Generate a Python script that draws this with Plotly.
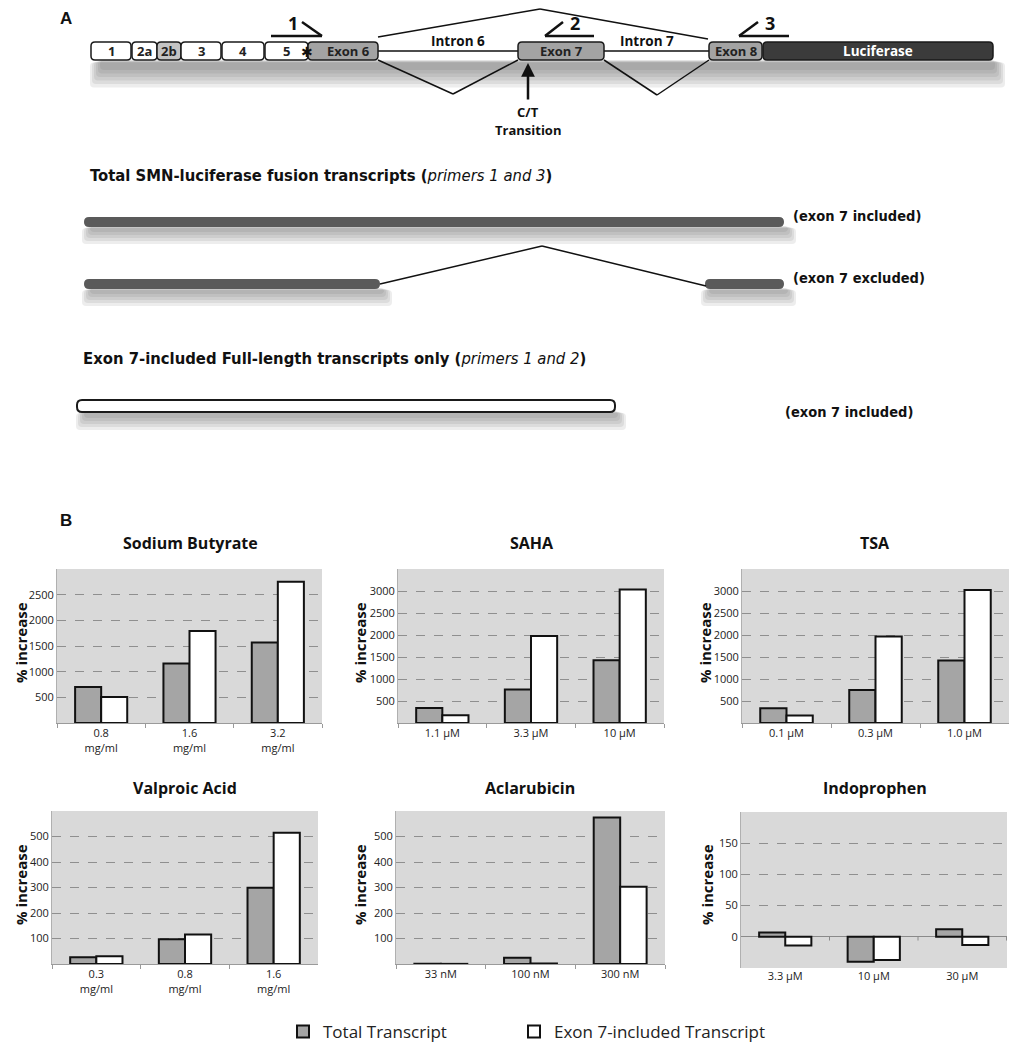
import plotly.graph_objects as go

# reference size in pixels; the page body has an 8px margin, so the figure is
# made 8px smaller and every pixel position below is given in page coordinates
W, H = 1028, 1050
OFF = 8
FIG_W, FIG_H = W - OFF, H - OFF

# ---- panel B data ----
drug_titles = ["Sodium Butyrate", "SAHA", "TSA", "Valproic Acid", "Aclarubicin", "Indoprophen"]

cats_sb = ["0.8<br>mg/ml", "1.6<br>mg/ml", "3.2<br>mg/ml"]
total_sb = [700, 1160, 1570]
exon7_sb = [505, 1790, 2750]

cats_saha = ["1.1 µM", "3.3 µM", "10 µM"]
total_saha = [340, 760, 1425]
exon7_saha = [175, 1975, 3035]

cats_tsa = ["0.1 µM", "0.3 µM", "1.0 µM"]
total_tsa = [335, 750, 1420]
exon7_tsa = [170, 1965, 3025]

cats_vpa = ["0.3<br>mg/ml", "0.8<br>mg/ml", "1.6<br>mg/ml"]
total_vpa = [26, 97, 299]
exon7_vpa = [30, 116, 515]

cats_acla = ["33 nM", "100 nM", "300 nM"]
total_acla = [1, 25, 575]
exon7_acla = [0.5, 2, 303]

cats_indo = ["3.3 µM", "10 µM", "30 µM"]
total_indo = [7, -40, 12]
exon7_indo = [-14, -37, -13]

y_ranges = [[0, 3000], [0, 3500], [0, 3500], [0, 600], [0, 600], [-50, 200]]
y_ticks = [
    [500, 1000, 1500, 2000, 2500, 3000],
    [500, 1000, 1500, 2000, 2500, 3000, 3500],
    [500, 1000, 1500, 2000, 2500, 3000, 3500],
    [100, 200, 300, 400, 500, 600],
    [100, 200, 300, 400, 500, 600],
    [-50, 0, 50, 100, 150, 200],
]
legend_names = ["Total Transcript", "Exon 7-included Transcript"]

charts = [
    (cats_sb, total_sb, exon7_sb),
    (cats_saha, total_saha, exon7_saha),
    (cats_tsa, total_tsa, exon7_tsa),
    (cats_vpa, total_vpa, exon7_vpa),
    (cats_acla, total_acla, exon7_acla),
    (cats_indo, total_indo, exon7_indo),
]

# plot areas in pixels: x0, x1, ytop, ybottom
plot_boxes = [
    (57, 322, 569, 723),
    (398, 664, 569, 723),
    (742, 1009, 569, 723),
    (52, 318, 811, 964),
    (396, 665, 811, 964),
    (741, 1007, 812, 968),
]
title_pos = [(190, 543), (532, 543), (875, 543), (185, 788), (530, 788), (875, 788)]
ytitle_pos = [(21, 643), (360, 643), (705, 643), (21, 885), (360, 885), (707, 885)]

GRAY_BAR = "#a5a5a5"
FONT = "Open Sans, Noto Sans, sans-serif"
NARROW = "DejaVu Sans Condensed, Liberation Sans Narrow, sans-serif"


def px(x):
    return (x - OFF) / FIG_W


def py(y):
    return 1 - (y - OFF) / FIG_H


def rrect_path(x0, y0, x1, y1, r):
    """rounded rectangle as svg path in paper coords (input in pixels)"""
    pts = [
        ("M", [(x0 + r, y0)]),
        ("L", [(x1 - r, y0)]),
        ("Q", [(x1, y0), (x1, y0 + r)]),
        ("L", [(x1, y1 - r)]),
        ("Q", [(x1, y1), (x1 - r, y1)]),
        ("L", [(x0 + r, y1)]),
        ("Q", [(x0, y1), (x0, y1 - r)]),
        ("L", [(x0, y0 + r)]),
        ("Q", [(x0, y0), (x0 + r, y0)]),
    ]
    s = ""
    for cmd, pp in pts:
        s += cmd + " ".join("%.5f,%.5f" % (px(a), py(b)) for a, b in pp) + " "
    return s + "Z"


shapes = []
annotations = []


def box(x0, y0, x1, y1, fill, r=4, lw=1.5):
    shapes.append(dict(type="path", xref="paper", yref="paper", path=rrect_path(x0, y0, x1, y1, r),
                       fillcolor=fill, line=dict(color="#1a1a1a", width=lw), layer="above"))


def line(x0, y0, x1, y1, w=1.5, color="#111"):
    shapes.append(dict(type="line", xref="paper", yref="paper", x0=px(x0), y0=py(y0), x1=px(x1), y1=py(y1),
                       line=dict(color=color, width=w), layer="above"))


def shadow(x0, x1, y0, y1, steps=5, grow=3):
    # soft drop shadow made of a few stacked translucent rectangles
    for k in range(steps):
        shapes.append(dict(type="path", xref="paper", yref="paper",
                           path=rrect_path(x0 - k * 2, y0 + k * 0.5, x1 + k * 2, y1 + k * grow, 4),
                           fillcolor="#505050", opacity=0.1, line=dict(width=0), layer="below"))


def text(x, y, s, size=12, color="#111", family=FONT, xanchor="center", angle=0):
    annotations.append(dict(x=px(x), y=py(y), xref="paper", yref="paper", text=s, showarrow=False,
                            xanchor=xanchor, yanchor="middle", textangle=angle,
                            font=dict(size=size, color=color, family=family)))


# ---------------- panel A: gene schematic ----------------
text(58, 18, "<b>A</b>", size=17, family="Liberation Sans, Arial, sans-serif", xanchor="left")
text(58, 520, "<b>B</b>", size=17, family="Liberation Sans, Arial, sans-serif", xanchor="left")

shadow(100, 995, 60, 70, steps=6, grow=3.5)

# introns and splice lines
line(378, 51, 518, 51)
line(604, 51, 709, 51)
line(378, 37, 540, 9)
line(540, 9, 708, 39)
line(378, 60, 453, 94)
line(453, 94, 518, 60)
line(604, 60, 657, 95)
line(657, 95, 709, 60)

exons = [("1", 91, 131, "white"), ("2a", 132, 157, "white"), ("2b", 157, 181, "#c4c4c4"),
         ("3", 181, 221, "white"), ("4", 222, 264, "white"), ("5", 265, 308, "white"),
         ("Exon 6", 308, 378, "#a3a3a3"), ("Exon 7", 518, 604, "#a3a3a3"), ("Exon 8", 709, 762, "#a3a3a3")]
for name, x0, x1, fill in exons:
    box(x0, 42, x1, 60, fill)
    cx = (x0 + x1) / 2 + (5 if name == "Exon 6" else 0)
    text(cx, 51, "<b>%s</b>" % name, size=13, color="#222")
box(763, 42, 993, 60, "#3b3b3b")
text(878, 51, "<b>Luciferase</b>", size=13.5, color="white")
text(307, 52, "✱", size=14, color="#111", family="DejaVu Sans, sans-serif")

text(458, 41, "<b>Intron 6</b>", size=13.5)
text(647, 41, "<b>Intron 7</b>", size=13.5)

# primers
line(271, 36, 322, 36, w=2.5)
line(302, 22, 322, 36, w=2.5)
text(293, 23, "<b>1</b>", size=18)
line(545, 36, 594, 36, w=2.5)
line(545, 36, 563, 22, w=2.5)
text(575, 23, "<b>2</b>", size=18)
line(739, 36, 789, 36, w=2.5)
line(739, 36, 758, 22, w=2.5)
text(770, 23, "<b>3</b>", size=18)

# C/T transition arrow
annotations.append(dict(x=px(528), y=py(63), xref="paper", yref="paper", ax=0, ay=38, text="",
                        showarrow=True, arrowhead=2, arrowsize=1.1, arrowwidth=2.5, arrowcolor="#111"))
text(528, 112, "<b>C/T</b>", size=13)
text(528, 130, "<b>Transition</b>", size=13)

# transcripts
text(88, 175, "<b>Total SMN-luciferase fusion transcripts (</b><i>primers 1 and 3</i><b>)</b>",
     size=16.5, family=NARROW, xanchor="left")
shadow(90, 788, 226, 232)
box(84, 217, 784, 227, "#5a5a5a", r=5, lw=0)
text(791, 216, "<b>(exon 7 included)</b>", size=14.5, family=NARROW, xanchor="left")

shadow(90, 384, 288, 294)
shadow(709, 788, 288, 294)
box(84, 279, 380, 289, "#5a5a5a", r=5, lw=0)
box(705, 279, 784, 289, "#5a5a5a", r=5, lw=0)
line(380, 284, 542, 246)
line(542, 246, 706, 286)
text(791, 278, "<b>(exon 7 excluded)</b>", size=14.5, family=NARROW, xanchor="left")

text(81, 358, "<b>Exon 7-included Full-length transcripts only (</b><i>primers 1 and 2</i><b>)</b>",
     size=16.5, family=NARROW, xanchor="left")
shadow(84, 618, 411, 418)
box(77, 400, 615, 412, "white", r=5, lw=2)
text(783, 412, "<b>(exon 7 included)</b>", size=14.5, family=NARROW, xanchor="left")

# ---------------- panel B: bar charts ----------------
fig = go.Figure()
layout_axes = {}
for i, (cats, total, exon7) in enumerate(charts):
    n = i + 1
    xa, ya = "x%d" % n, "y%d" % n
    fig.add_trace(go.Bar(x=cats, y=total, name=legend_names[0], xaxis=xa, yaxis=ya,
                         marker=dict(color=GRAY_BAR, line=dict(color="#111", width=2)),
                         legend="legend", showlegend=(i == 0)))
    fig.add_trace(go.Bar(x=cats, y=exon7, name=legend_names[1], xaxis=xa, yaxis=ya,
                         marker=dict(color="white", line=dict(color="#111", width=2)),
                         legend="legend2", showlegend=(i == 0)))

    x0, x1, yt, yb = plot_boxes[i]
    ticks = y_ticks[i]
    labels = [str(t) for t in ticks]
    labels[-1] = ""
    indo = i == 5
    if indo:
        labels[0] = ""
    layout_axes["xaxis%d" % n] = dict(
        domain=[px(x0), px(x1)], anchor=ya, type="category",
        showline=not indo, linecolor="#9a9a9a", linewidth=1,
        ticks="" if indo else "outside", tickson="boundaries", ticklen=4, tickcolor="#9a9a9a",
        tickfont=dict(size=11, color="#222", family=FONT), showgrid=False,
    )
    layout_axes["yaxis%d" % n] = dict(
        domain=[py(yb), py(yt)], anchor=xa, range=y_ranges[i],
        tickvals=ticks, ticktext=labels, ticks="",
        showgrid=True, gridcolor="#8f8f8f", griddash="dash", gridwidth=1,
        showline=True, linecolor="#b0b0b0", linewidth=1,
        zeroline=indo, zerolinecolor="#8a8a8a", zerolinewidth=1.2,
        tickfont=dict(size=11, color="#222", family=FONT),
    )
    tx, ty = title_pos[i]
    text(tx, ty, "<b>%s</b>" % drug_titles[i], size=16, family=FONT)
    ax_, ay_ = ytitle_pos[i]
    text(ax_, ay_, "<b>% increase</b>", size=15, family=FONT, angle=-90)

# little tick marks on the zero line of the Indoprophen chart
for b in [0.5, 1.5, 2.5]:
    shapes.append(dict(type="line", xref="x6", yref="y6", x0=b, x1=b, y0=0, y1=-6,
                       line=dict(color="#8a8a8a", width=1)))

legend_style = dict(orientation="h", xanchor="left", y=py(1032), yanchor="middle",
                    font=dict(size=17, color="#222", family=FONT), bgcolor="rgba(0,0,0,0)")

fig.update_layout(
    width=FIG_W, height=FIG_H,
    margin=dict(l=0, r=0, t=0, b=0),
    paper_bgcolor="white",
    plot_bgcolor="#d9d9d9",
    barmode="group", bargap=0.41, bargroupgap=0,
    shapes=shapes, annotations=annotations,
    legend=dict(x=px(283), **legend_style),
    legend2=dict(x=px(514), **legend_style),
    **layout_axes,
)

fig.write_html("out.html")
